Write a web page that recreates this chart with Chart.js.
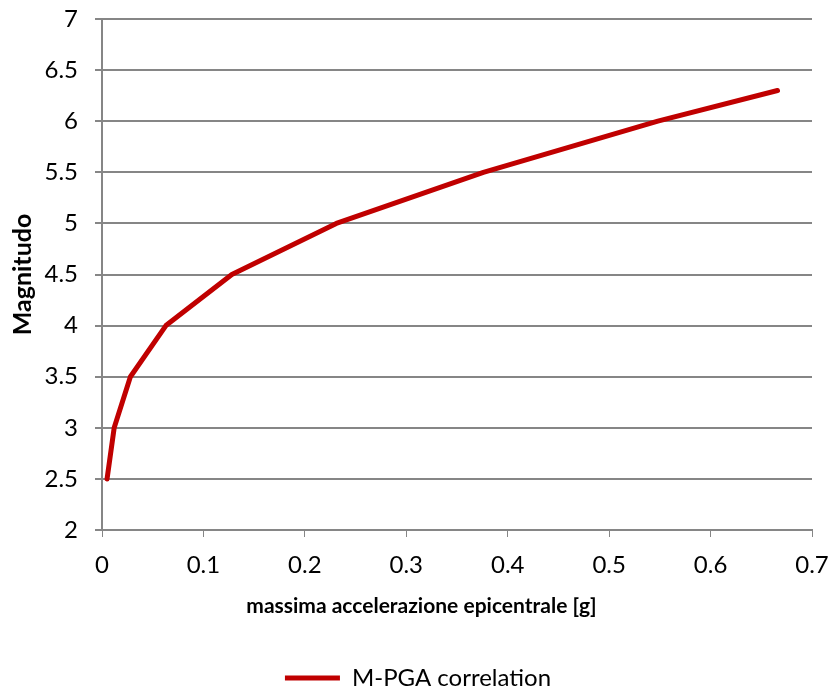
<!DOCTYPE html>
<html>
<head>
<meta charset="utf-8">
<script src="https://cdn.jsdelivr.net/npm/chart.js@4/dist/chart.umd.min.js"></script>
<style>
  html, body { margin: 0; padding: 0; background: #fff; }
  #wrap { width: 831px; height: 688px; position: relative; }
</style>
</head>
<body>
<div id="wrap"><canvas id="chart_mpga"></canvas></div>
<script>
// PGA [g] vs magnitude
const pga = [0.005, 0.012, 0.028, 0.063, 0.128, 0.231, 0.376, 0.548, 0.666];
const magnitude = [2.5, 3.0, 3.5, 4.0, 4.5, 5.0, 5.5, 6.0, 6.3];
const xTicks = [0, 0.1, 0.2, 0.3, 0.4, 0.5, 0.6, 0.7];
const yTicks = [2, 2.5, 3, 3.5, 4, 4.5, 5, 5.5, 6, 6.5, 7];
const xTitle = 'massima accelerazione epicentrale [g]';
const yTitle = 'Magnitudo';

const FONT = 'Lato, "Open Sans", sans-serif';
const GRID = '#868686';

var chart_mpga = new Chart(document.getElementById('chart_mpga'), {
    type: 'line',
    data: {
        datasets: [
            {
                label: 'M-PGA correlation',
                data: pga.map((x, i) => ({ x: x, y: magnitude[i] })),
                borderColor: '#c00000',
                backgroundColor: '#c00000',
                borderWidth: 5,
                borderJoinStyle: 'round',
                borderCapStyle: 'round',
                pointRadius: 0,
                pointStyle: 'line',
                tension: 0,
                fill: false
            }
        ]
    },
    options: {
        animation: false,
        responsive: true,
        maintainAspectRatio: false,
        layout: {
            padding: { top: 19, right: 19, bottom: -12, left: 0 }
        },
        plugins: {
            tooltip: { enabled: false },
            legend: {
                display: true,
                position: 'bottom',
                labels: {
                    usePointStyle: true,
                    pointStyleWidth: 55,
                    padding: 47,
                    color: '#000',
                    font: { family: FONT, size: 24 }
                }
            }
        },
        scales: {
            x: {
                type: 'linear',
                min: 0,
                max: 0.7,
                afterBuildTicks: (scale) => { scale.ticks = xTicks.map(v => ({ value: v })); },
                afterFit: (scale) => {
                    scale.height = 89;
                    scale.paddingLeft = 0;
                    scale.paddingRight = 0;
                },
                ticks: {
                    padding: 14,
                    color: '#000',
                    maxRotation: 0,
                    font: { family: FONT, size: 24 },
                    callback: (v) => String(v)
                },
                grid: {
                    drawOnChartArea: false,
                    drawTicks: true,
                    tickLength: 7,
                    color: GRID
                },
                border: { color: GRID, width: 2 },
                // drawn by the axisTitle plugin, centred on the canvas
                title: { display: false }
            },
            y: {
                type: 'linear',
                min: 2,
                max: 7,
                afterBuildTicks: (scale) => { scale.ticks = yTicks.map(v => ({ value: v })); },
                afterFit: (scale) => {
                    scale.width = 102;
                    scale.paddingTop = 0;
                    scale.paddingBottom = 0;
                },
                ticks: {
                    padding: 17,
                    color: '#000',
                    font: { family: FONT, size: 24 },
                    callback: (v) => String(v)
                },
                grid: {
                    drawOnChartArea: true,
                    drawTicks: true,
                    tickLength: 7,
                    color: GRID,
                    lineWidth: 2
                },
                border: { color: GRID, width: 2 },
                title: {
                    display: true,
                    text: yTitle,
                    color: '#000',
                    font: { family: FONT, size: 25, weight: 'bold' },
                    padding: { top: 8, bottom: 0 }
                }
            }
        }
    },
    plugins: [{
        id: 'whiteBackground',
        beforeDraw: (chart) => {
            const ctx = chart.canvas.getContext('2d');
            ctx.save();
            ctx.globalCompositeOperation = 'destination-over';
            ctx.fillStyle = 'white';
            ctx.fillRect(0, 0, chart.canvas.width, chart.canvas.height);
            ctx.restore();
        }
    }, {
        // nudge the legend a little to the right of the plot centre
        id: 'legendShift',
        afterLayout: (chart) => {
            if (chart.legend) {
                chart.legend.left += 12;
                chart.legend.right += 12;
            }
        }
    }, {
        id: 'axisTitle',
        afterDraw: (chart) => {
            const ctx = chart.ctx;
            const x = chart.scales.x;
            ctx.save();
            ctx.font = 'bold 21px ' + FONT;
            ctx.fillStyle = '#000';
            ctx.textAlign = 'center';
            ctx.textBaseline = 'middle';
            ctx.fillText(xTitle, chart.width / 2 + 6, x.bottom - 13);
            ctx.restore();
        }
    }]
});
</script>
</body>
</html>
